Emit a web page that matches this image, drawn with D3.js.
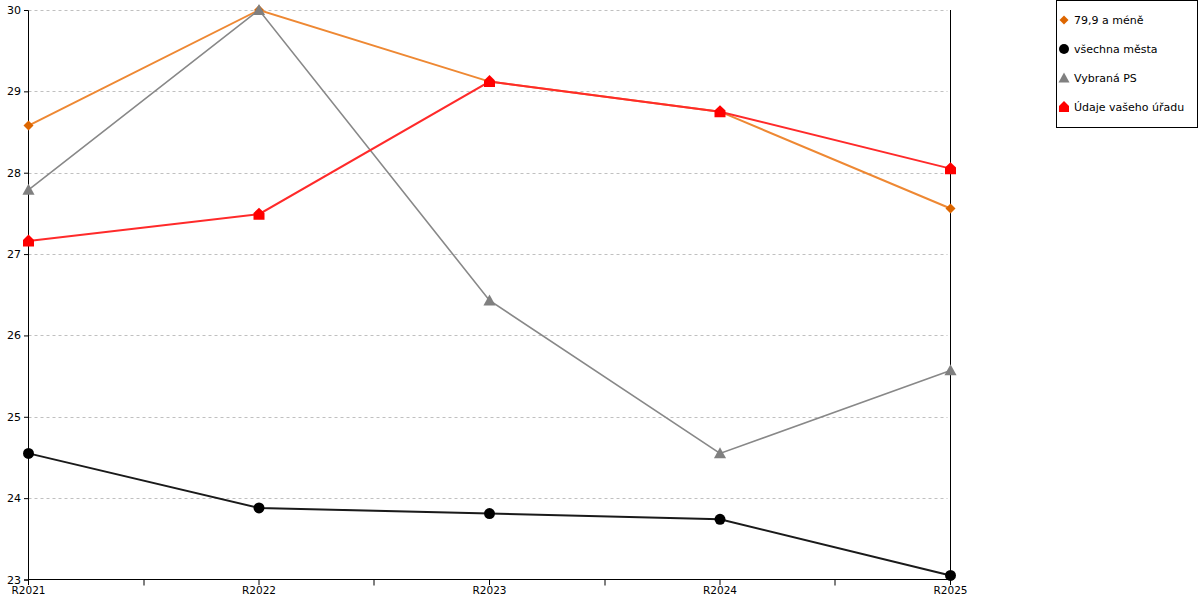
<!DOCTYPE html>
<html>
<head>
<meta charset="utf-8">
<script src="https://cdn.jsdelivr.net/npm/d3@7"></script>
<style>
  body { margin: 0; background: #fff; }
  svg { font-family: "DejaVu Sans", Verdana, sans-serif; }
</style>
</head>
<body>
<div id="viz"></div>
<script>
// data
var years = ['R2021', 'R2022', 'R2023', 'R2024', 'R2025'];
var yTicks = [23, 24, 25, 26, 27, 28, 29, 30];

var seriesNames = ['79,9 a méně', 'všechna města', 'Vybraná PS', 'Údaje vašeho úřadu'];
var small = [28.58, 30.0, 29.12, 28.75, 27.56];
var allCities = [24.55, 23.88, 23.81, 23.74, 23.05];
var selectedPS = [27.79, 30.0, 26.43, 24.55, 25.57];
var yourOffice = [27.16, 27.49, 29.12, 28.75, 28.05];

function draw() {
    // drawn in legend order, last one on top
    var series = [
        { name: seriesNames[0], values: small, line: '#ee8833', fill: '#dd6600', width: 2, shape: 'diamond' },
        { name: seriesNames[1], values: allCities, line: '#1a1a1a', fill: '#000000', width: 2, shape: 'circle' },
        { name: seriesNames[2], values: selectedPS, line: '#888888', fill: '#808080', width: 1.6, shape: 'triangle' },
        { name: seriesNames[3], values: yourOffice, line: '#ff2a2a', fill: '#ff0000', width: 2, shape: 'house' }
    ];

    var width = 1200, height = 600;
    var plotLeft = 28.5, plotRight = 950.5, plotTop = 10, plotBottom = 579.5;

    var svg = d3.select('#viz').append('svg').attr('width', width).attr('height', height);

    var x = d3.scalePoint().domain(years).range([plotLeft, plotRight]);
    var y = d3.scaleLinear().domain([23, 30]).range([plotBottom, plotTop]);

    // grid
    svg.append('g').selectAll('line').data(yTicks.slice(1))
        .enter().append('line')
        .attr('x1', plotLeft).attr('x2', plotRight - 3)
        .attr('y1', d => Math.round(y(d)) + 0.5).attr('y2', d => Math.round(y(d)) + 0.5)
        .attr('stroke', '#c0c0c0').attr('stroke-dasharray', '3,3');

    // right border
    svg.append('line').attr('x1', plotRight).attr('x2', plotRight).attr('y1', plotTop).attr('y2', plotBottom)
        .attr('stroke', '#000');

    // y axis (d3 adds its own half pixel offset)
    var yAxis = svg.append('g').attr('transform', 'translate(' + (plotLeft - 0.5) + ',0)')
        .call(d3.axisLeft(y).tickValues(yTicks).tickSize(4).tickPadding(3).tickFormat(d3.format('d')));
    yAxis.select('.domain').attr('stroke', '#000');
    yAxis.selectAll('text').attr('font-size', '11px').attr('fill', '#000')
        .attr('font-family', '"DejaVu Sans", Verdana, sans-serif');

    // x axis with minor ticks between categories
    var xAxis = svg.append('g').attr('transform', 'translate(-0.5,' + (plotBottom - 0.5) + ')')
        .call(d3.axisBottom(x).tickSize(6).tickPadding(2).tickSizeOuter(0));
    xAxis.select('.domain').attr('stroke', '#000');
    xAxis.selectAll('text').attr('font-size', '10.5px').attr('fill', '#000')
        .attr('font-family', '"DejaVu Sans", Verdana, sans-serif');
    var mids = d3.pairs(years).map(p => (x(p[0]) + x(p[1])) / 2);
    xAxis.selectAll('.minor').data(mids).enter().append('line')
        .attr('class', 'minor')
        .attr('x1', d => Math.round(d) + 0.5).attr('x2', d => Math.round(d) + 0.5)
        .attr('y1', 0.5).attr('y2', 6.5).attr('stroke', '#000');

    function symbolPath(shape, s) {
        if (shape === 'circle') return d3.symbol().type(d3.symbolCircle).size(s * s * 0.78)();
        if (shape === 'diamond') return 'M0,' + (-s / 2) + 'L' + (s / 2) + ',0L0,' + (s / 2) + 'L' + (-s / 2) + ',0Z';
        if (shape === 'triangle') return 'M0,' + (-s * 0.55) + 'L' + (s * 0.55) + ',' + (s * 0.45) + 'L' + (-s * 0.55) + ',' + (s * 0.45) + 'Z';
        // house: square with a roof
        var h = s / 2;
        return 'M0,' + (-h - 1) + 'L' + h + ',' + (-h * 0.2) + 'L' + h + ',' + h + 'L' + (-h) + ',' + h + 'L' + (-h) + ',' + (-h * 0.2) + 'Z';
    }
    var sizes = { circle: 11, diamond: 10, triangle: 11, house: 11 };

    var line = d3.line().x((d, i) => x(years[i])).y(d => y(d));

    series.forEach(function(s) {
        var g = svg.append('g');
        g.append('path').attr('d', line(s.values))
            .attr('fill', 'none').attr('stroke', s.line).attr('stroke-width', s.width);
        g.selectAll('path.mk').data(s.values).enter().append('path')
            .attr('class', 'mk')
            .attr('transform', (d, i) => 'translate(' + x(years[i]) + ',' + y(d) + ')')
            .attr('d', symbolPath(s.shape, sizes[s.shape]))
            .attr('fill', s.fill);
    });

    // legend
    var lg = svg.append('g');
    lg.append('rect').attr('x', 1056.5).attr('y', 0.5).attr('width', 141).attr('height', 127)
        .attr('fill', '#fff').attr('stroke', '#000');
    series.forEach(function(s, k) {
        var cy = 20 + k * 29;
        var sz = sizes[s.shape] - 1;
        lg.append('path').attr('transform', 'translate(1064,' + cy + ')')
            .attr('d', symbolPath(s.shape, sz)).attr('fill', s.fill);
        lg.append('text').attr('x', 1074).attr('y', cy + 4)
            .attr('font-size', '11px').attr('fill', '#000').text(s.name);
    });
}

draw();
</script>
</body>
</html>
